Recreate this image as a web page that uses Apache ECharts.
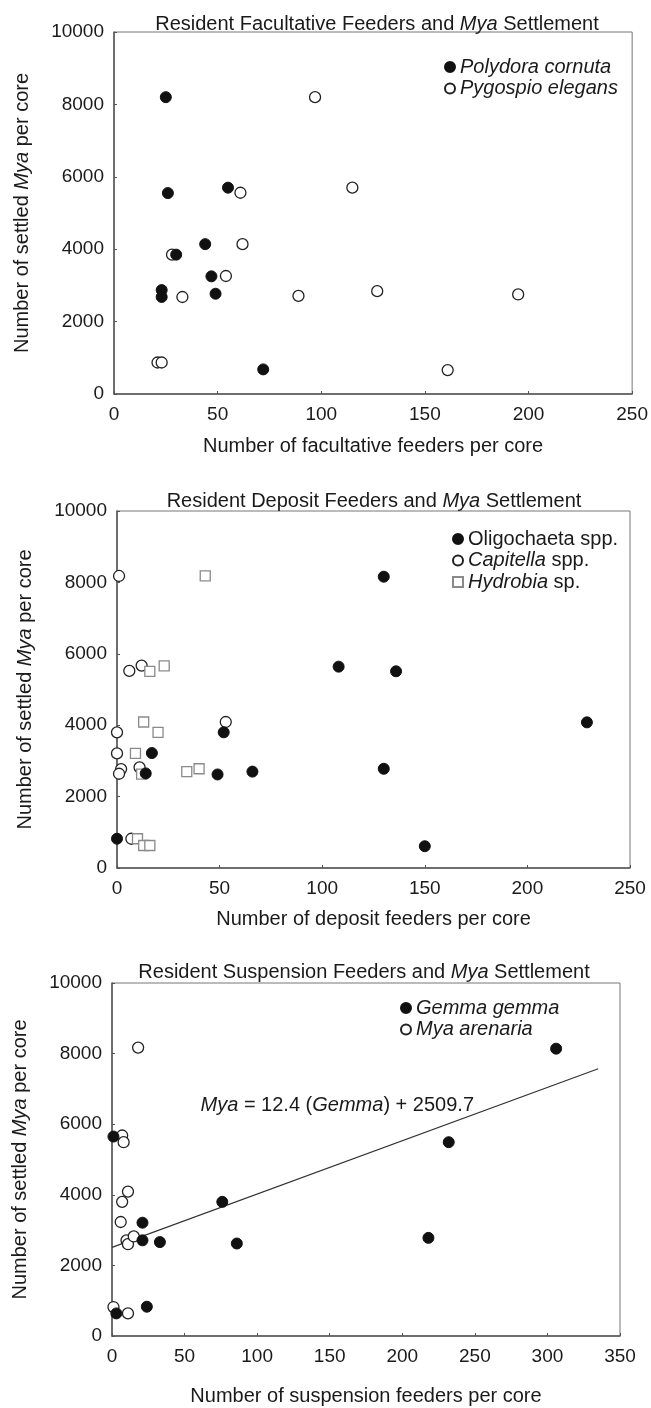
<!DOCTYPE html>
<html>
<head>
<meta charset="utf-8">
<script src="https://cdn.jsdelivr.net/npm/echarts@6/dist/echarts.min.js"></script>
<style>
  html, body { margin: 0; padding: 0; background: #fff; }
  #chart { width: 651px; height: 1408px; }
</style>
</head>
<body>
<div id="chart"></div>
<script>
// panel 1 - facultative feeders
var polydoraX = [25, 26, 55, 44, 30, 47, 23, 23, 49, 72]
var polydoraY = [8200, 5550, 5700, 4140, 3850, 3250, 2870, 2680, 2770, 680]
var pygospioX = [97, 61, 115, 62, 28, 54, 33, 89, 127, 195, 21, 23, 161]
var pygospioY = [8200, 5560, 5700, 4140, 3850, 3260, 2680, 2710, 2840, 2750, 870, 870, 660]

// panel 2 - deposit feeders
var oligoX = [130, 108, 136, 229, 52, 17, 14, 49, 66, 130, 150, 0]
var oligoY = [8160, 5640, 5510, 4080, 3800, 3220, 2650, 2620, 2700, 2780, 610, 820]
var capitellaX = [1, 6, 12, 53, 0, 0, 2, 11, 1, 7]
var capitellaY = [8180, 5520, 5670, 4090, 3800, 3210, 2770, 2820, 2640, 820]
var hydrobiaX = [43, 23, 16, 13, 20, 9, 12, 34, 40, 10, 13, 16]
var hydrobiaY = [8180, 5660, 5510, 4090, 3800, 3210, 2630, 2700, 2780, 820, 630, 630]

// panel 3 - suspension feeders
var gemmaX = [306, 232, 218, 76, 86, 33, 21, 21, 24, 1, 3]
var gemmaY = [8140, 5490, 2780, 3800, 2620, 2660, 3210, 2710, 830, 5650, 640]
var myaX = [18, 7, 8, 11, 7, 6, 10, 11, 15, 1, 11]
var myaY = [8170, 5680, 5490, 4090, 3800, 3230, 2710, 2600, 2820, 820, 640]
var trendX = [0, 335]
var trendY = [2510, 7570]

function pairs (xs, ys) {
  return xs.map(function (x, i) { return [x, ys[i]] })
}

var FONT = 'Liberation Sans'
var INK = '#1a1a1a'
var FS = 20
var rich = { i: { fontStyle: 'italic', fontFamily: FONT, fontSize: FS, color: INK } }

var filled = { color: '#111', borderColor: '#111', borderWidth: 1, opacity: 1 }
var hollow = { color: '#fff', borderColor: '#222', borderWidth: 1.3, opacity: 1 }
var square = { color: '#fff', borderColor: '#8a8a8a', borderWidth: 1.3, opacity: 1 }

var grids = [
  { left: 114, top: 32, width: 519, height: 362 },
  { left: 117, top: 511, width: 513, height: 357 },
  { left: 112, top: 983, width: 508, height: 353 }
]
grids.forEach(function (g) {
  g.show = true
  g.borderColor = '#777'
  g.borderWidth = 1
  g.backgroundColor = 'transparent'
})

var xNames = [
  'Number of facultative feeders per core',
  'Number of deposit feeders per core',
  'Number of suspension feeders per core'
]
var xMax = [250, 250, 350]
var xGap = [42, 41, 50]

var xAxes = [0, 1, 2].map(function (i) {
  return {
    gridIndex: i, type: 'value', min: 0, max: xMax[i], interval: 50,
    name: xNames[i], nameLocation: 'middle', nameGap: xGap[i],
    nameTextStyle: { fontFamily: FONT, fontSize: FS, color: INK },
    axisLine: { onZero: false, lineStyle: { color: '#555', width: 1.5 } },
    axisTick: { show: true, inside: true, length: 3, lineStyle: { color: '#555' } },
    axisLabel: { fontFamily: FONT, fontSize: 19, color: INK, margin: 11 },
    splitLine: { show: false }
  }
})
var yAxes = [0, 1, 2].map(function (i) {
  return {
    gridIndex: i, type: 'value', min: 0, max: 10000, interval: 2000,
    name: 'Number of settled {i|Mya} per core', nameLocation: 'middle', nameGap: 82,
    nameTextStyle: { fontFamily: FONT, fontSize: FS, color: INK, rich: rich },
    axisLine: { onZero: false, lineStyle: { color: '#555', width: 1.5 } },
    axisTick: { show: true, inside: true, length: 3, lineStyle: { color: '#555' } },
    axisLabel: {
      fontFamily: FONT, fontSize: 19, color: INK, margin: 10,
      formatter: function (v) { return String(v) }
    },
    splitLine: { show: false }
  }
})

function titleFor (text, cx, top) {
  return {
    text: text, left: cx, top: top, textAlign: 'center',
    textStyle: { fontFamily: FONT, fontSize: FS, fontWeight: 'normal', color: INK, rich: rich }
  }
}

function legendFor (names, left, top, fmt) {
  return {
    orient: 'vertical', left: left, top: top, data: names,
    itemWidth: 10, itemHeight: 10, itemGap: 1.5, selectedMode: false,
    textStyle: { fontFamily: FONT, fontSize: FS, color: INK, lineHeight: 20, rich: rich },
    formatter: fmt
  }
}

function scatter (name, xi, data, symbol, style, size) {
  return {
    name: name, type: 'scatter', xAxisIndex: xi, yAxisIndex: xi,
    data: data, symbol: symbol, symbolSize: size, itemStyle: style,
    z: style === filled ? 3 : 2
  }
}

var chart = echarts.init(document.getElementById('chart'), null, { renderer: 'canvas' })
chart.setOption({
  backgroundColor: '#fff',
  animation: false,
  title: [
    titleFor('Resident Facultative Feeders and {i|Mya} Settlement', 372, 9),
    titleFor('Resident Deposit Feeders and {i|Mya} Settlement', 369, 486),
    titleFor('Resident Suspension Feeders and {i|Mya} Settlement', 359, 957)
  ],
  legend: [
    legendFor(['Polydora cornuta', 'Pygospio elegans'], 439, 52, function (n) { return '{i|' + n + '}' }),
    legendFor(['Oligochaeta spp.', 'Capitella spp.', 'Hydrobia sp.'], 447, 524, function (n) {
      if (n === 'Oligochaeta spp.') return n
      var p = n.split(' ')
      return '{i|' + p[0] + '} ' + p[1]
    }),
    legendFor(['Gemma gemma', 'Mya arenaria'], 395, 993, function (n) { return '{i|' + n + '}' })
  ],
  grid: grids,
  xAxis: xAxes,
  yAxis: yAxes,
  series: [
    scatter('Polydora cornuta', 0, pairs(polydoraX, polydoraY), 'circle', filled, 11),
    scatter('Pygospio elegans', 0, pairs(pygospioX, pygospioY), 'circle', hollow, 11),
    scatter('Oligochaeta spp.', 1, pairs(oligoX, oligoY), 'circle', filled, 11),
    scatter('Capitella spp.', 1, pairs(capitellaX, capitellaY), 'circle', hollow, 11),
    scatter('Hydrobia sp.', 1, pairs(hydrobiaX, hydrobiaY), 'rect', square, 10),
    scatter('Gemma gemma', 2, pairs(gemmaX, gemmaY), 'circle', filled, 11),
    scatter('Mya arenaria', 2, pairs(myaX, myaY), 'circle', hollow, 11),
    {
      name: 'trend', type: 'line', xAxisIndex: 2, yAxisIndex: 2,
      data: pairs(trendX, trendY), symbol: 'none',
      lineStyle: { color: '#333', width: 1.2 }, z: 1,
      markPoint: {
        symbol: 'circle', symbolSize: 0,
        data: [{ coord: [61, 6540] }],
        label: {
          show: true, position: 'right', distance: 0,
          fontFamily: FONT, fontSize: FS, color: INK, rich: rich,
          formatter: '{i|Mya} = 12.4 ({i|Gemma}) + 2509.7'
        }
      }
    }
  ]
})
</script>
</body>
</html>
